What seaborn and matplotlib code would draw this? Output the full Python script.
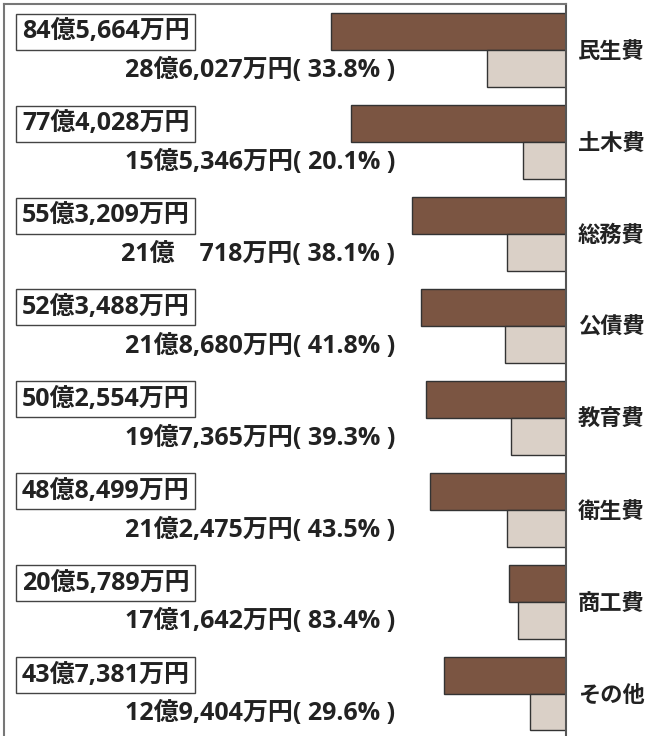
import pandas as pd
import matplotlib.pyplot as plt
import seaborn as sns

# =========================
# Data (amounts in 億円)
# =========================
categories = ["民生費", "土木費", "総務費", "公債費", "教育費", "衛生費", "商工費", "その他"]
total_oku = [84.5664, 77.4028, 55.3209, 52.3488, 50.2554, 48.8499, 20.5789, 43.7381]
sub_oku = [28.6027, 15.5346, 21.0718, 21.8680, 19.7365, 21.2475, 17.1642, 12.9404]
total_labels = ["84億5,664万円", "77億4,028万円", "55億3,209万円", "52億3,488万円",
                "50億2,554万円", "48億8,499万円", "20億5,789万円", "43億7,381万円"]
sub_labels = ["28億6,027万円( 33.8% )", "15億5,346万円( 20.1% )", "21億\u3000718万円( 38.1% )",
              "21億8,680万円( 41.8% )", "19億7,365万円( 39.3% )", "21億2,475万円( 43.5% )",
              "17億1,642万円( 83.4% )", "12億9,404万円( 29.6% )"]

df = pd.DataFrame({
    "category": categories * 2,
    "value": total_oku + sub_oku,
    "kind": ["total"] * len(categories) + ["sub"] * len(categories),
})

# =========================
# Style
# =========================
sns.set_style("white")
plt.rcParams['font.family'] = ['Open Sans', 'Noto Sans CJK JP', 'DejaVu Sans']

fig = plt.figure(figsize=(6.5, 7.36), dpi=100)
ax = fig.add_axes([4 / 650, 0, 562 / 650, 1 - 4 / 736])

sns.barplot(data=df, y="category", x="value", hue="kind", orient="h",
            hue_order=["total", "sub"], palette=["#855238", "#ddd0c4"],
            width=0.8, edgecolor="#333333", linewidth=1, legend=False, ax=ax)

# bars grow to the left from the right edge
ax.set_xlim(202.2, 0)
ax.set_ylim(7.46, -0.5)
ax.set_xlabel("")
ax.set_ylabel("")
ax.set_xticks([])

# category names on the right
ax.yaxis.tick_right()
ax.tick_params(axis="y", length=0, pad=8.5)
for lbl in ax.get_yticklabels():
    lbl.set_fontsize(16)
    lbl.set_fontweight("bold")
    lbl.set_color("#222222")

# frame
ax.spines["bottom"].set_visible(False)
for s in ["left", "top"]:
    ax.spines[s].set_color("#777777")
    ax.spines[s].set_linewidth(1.5)
ax.spines["right"].set_color("#555555")
ax.spines["right"].set_linewidth(1.5)

# value labels
trans = ax.get_yaxis_transform()
for i in range(len(categories)):
    ax.text(0.032, i - 0.2, total_labels[i], transform=trans, ha="left", va="center",
            fontsize=18, fontweight="bold", color="#222222",
            bbox=dict(boxstyle="square,pad=0.22", fc="white", ec="#444444", lw=1))
    ax.text(0.696, i + 0.22, sub_labels[i], transform=trans, ha="right", va="center",
            fontsize=18, fontweight="bold", color="#222222")

plt.savefig("out.png", dpi=100)
